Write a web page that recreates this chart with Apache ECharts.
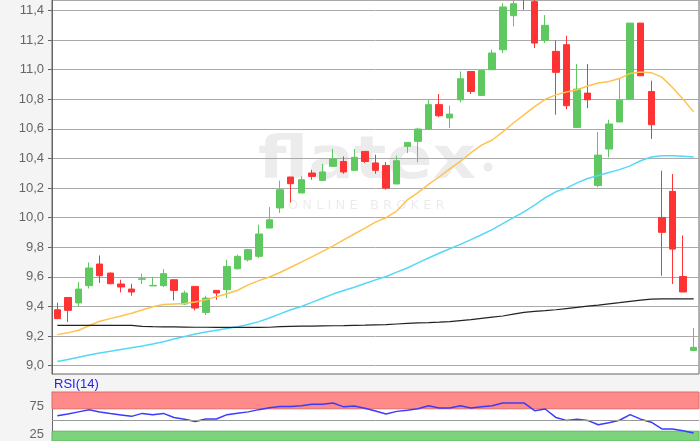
<!DOCTYPE html>
<html><head><meta charset="utf-8">
<script src="https://cdn.jsdelivr.net/npm/echarts@6/dist/echarts.min.js"></script>
<style>html,body{margin:0;padding:0;background:#f4f4f4}#c{width:700px;height:441px}</style>
</head><body><div id="c"></div>
<script>
const categories = ['1','2','3','4','5','6','7','8','9','10','11','12','13','14','15','16','17','18','19','20','21','22','23','24','25','26','27','28','29','30','31','32','33','34','35','36','37','38','39','40','41','42','43','44','45','46','47','48','49','50','51','52','53','54','55','56','57','58','59','60','61'];
const openValues = [9.378,9.461,9.424,9.541,9.687,9.626,9.552,9.518,9.584,9.539,9.541,9.581,9.417,9.536,9.360,9.509,9.514,9.655,9.716,9.739,9.930,10.066,10.275,10.167,10.302,10.252,10.347,10.380,10.320,10.448,10.370,10.353,10.228,10.482,10.516,10.599,10.764,10.674,10.797,10.988,10.826,11.000,11.135,11.365,11.560,11.460,11.198,11.124,11.169,10.610,10.842,10.218,10.464,10.647,10.802,11.315,10.853,10.002,10.178,9.603,9.103];
const closeValues = [9.318,9.374,9.518,9.660,9.608,9.554,9.532,9.498,9.588,9.543,9.622,9.509,9.491,9.390,9.457,9.491,9.671,9.739,9.784,9.890,9.986,10.189,10.230,10.257,10.279,10.309,10.399,10.309,10.408,10.380,10.320,10.200,10.385,10.509,10.599,10.764,10.689,10.700,10.939,10.853,10.995,11.113,11.424,11.446,11.490,11.180,11.300,10.982,10.757,10.869,10.797,10.423,10.633,10.793,11.315,10.959,10.628,9.901,9.788,9.498,9.124];
const lowValues = [9.318,9.295,9.400,9.522,9.559,9.550,9.495,9.473,9.552,9.539,9.532,9.441,9.410,9.374,9.343,9.446,9.457,9.650,9.705,9.728,9.930,10.032,10.103,10.167,10.257,10.252,10.343,10.297,10.320,10.370,10.297,10.189,10.228,10.437,10.374,10.595,10.680,10.606,10.779,10.836,10.826,11.000,11.113,11.293,11.405,11.147,11.180,10.696,10.734,10.610,10.740,10.205,10.408,10.647,10.802,10.959,10.532,9.608,9.552,9.498,9.100];
const highValues = [9.426,9.461,9.566,9.698,9.745,9.630,9.581,9.554,9.622,9.600,9.653,9.581,9.507,9.536,9.473,9.509,9.716,9.750,9.790,9.953,10.072,10.250,10.275,10.279,10.324,10.363,10.466,10.414,10.464,10.448,10.426,10.376,10.419,10.510,10.608,10.797,10.836,10.757,10.988,10.990,10.995,11.135,11.450,11.500,11.600,11.500,11.369,11.198,11.230,11.039,11.039,10.579,10.662,10.937,11.315,11.315,10.926,10.318,10.295,9.880,9.255];
const maShort = [9.210,9.222,9.240,9.270,9.300,9.318,9.336,9.354,9.376,9.398,9.413,9.417,9.420,9.430,9.445,9.466,9.486,9.510,9.546,9.575,9.599,9.630,9.665,9.700,9.735,9.772,9.810,9.850,9.890,9.930,9.970,10.000,10.045,10.120,10.170,10.225,10.275,10.330,10.380,10.440,10.490,10.525,10.580,10.640,10.695,10.750,10.800,10.830,10.850,10.865,10.890,10.910,10.920,10.940,10.975,10.985,10.980,10.950,10.880,10.800,10.715];
const maMid = [9.029,9.042,9.057,9.072,9.086,9.097,9.110,9.122,9.133,9.146,9.162,9.180,9.198,9.214,9.228,9.240,9.252,9.264,9.278,9.298,9.322,9.350,9.378,9.400,9.428,9.456,9.484,9.508,9.530,9.556,9.580,9.603,9.632,9.660,9.695,9.728,9.760,9.790,9.820,9.852,9.885,9.920,9.960,10.000,10.040,10.085,10.135,10.175,10.200,10.235,10.265,10.285,10.305,10.325,10.350,10.385,10.410,10.418,10.418,10.416,10.410];
const maLong = [9.272,9.272,9.272,9.272,9.272,9.272,9.272,9.272,9.266,9.264,9.263,9.262,9.261,9.260,9.260,9.259,9.259,9.259,9.259,9.259,9.260,9.264,9.266,9.267,9.268,9.269,9.270,9.271,9.273,9.274,9.276,9.278,9.282,9.286,9.289,9.291,9.294,9.298,9.305,9.312,9.320,9.328,9.336,9.348,9.360,9.367,9.372,9.378,9.386,9.394,9.403,9.410,9.418,9.426,9.435,9.443,9.450,9.452,9.452,9.452,9.452];
const rsiValues = [57.7,60.7,64.5,68.2,64.4,61.5,59.0,56.5,61.8,59.5,61.8,54.5,51.5,47.5,51.8,51.8,59.5,62.0,64.5,68.5,72.0,74.3,74.3,75.5,78.0,78.0,80.4,73.5,75.0,71.0,66.0,60.7,65.4,67.5,70.2,75.5,71.4,71.4,75.5,71.4,73.5,75.5,80.4,80.4,80.4,66.6,69.6,54.6,49.3,51.5,49.3,41.5,45.0,49.5,59.5,51.5,46.0,34.0,34.0,30.8,26.8];
const rsiLabels = [25, 75];

const candleData = categories.map((c, i) => [openValues[i], closeValues[i], lowValues[i], highValues[i]]);
const UP = '#60c860', DOWN = '#ff3333';
const RSI_MIN = 12.5; // visible lower edge of the RSI panel (panel is cut by the image edge)
const chart = echarts.init(document.getElementById('c'));
const hiddenX = {axisLine:{show:false},axisTick:{show:false},axisLabel:{show:false},splitLine:{show:false},boundaryGap:true};
chart.setOption({
  animation:false,
  backgroundColor:'#f4f4f4',
  textStyle:{fontFamily:'Liberation Sans, Arial, sans-serif'},
  grid:[
    {left:52,right:1,top:0,bottom:67,show:true,backgroundColor:'#fff',borderColor:'#666',borderWidth:1},
    {left:52,right:1,top:392,bottom:0,show:true,backgroundColor:'#fff',borderWidth:0}
  ],
  xAxis:[
    Object.assign({type:'category',data:categories,gridIndex:0}, hiddenX),
    Object.assign({type:'category',data:categories,gridIndex:1}, hiddenX)
  ],
  yAxis:[
    {type:'value',gridIndex:0,min:8.944,max:11.471,splitNumber:12,minInterval:0.2,maxInterval:0.2,
     axisLine:{show:true,lineStyle:{color:'#666'}},
     axisTick:{show:true,length:4,lineStyle:{color:'#666'}},
     axisLabel:{showMinLabel:false,showMaxLabel:false,color:'#666',fontSize:13,margin:8,
       formatter:v=>v.toFixed(1).replace('.',',')},
     splitLine:{show:true,lineStyle:{color:'#aaaaaa',width:1}}},
    {type:'value',gridIndex:1,min:RSI_MIN,max:100,splitNumber:4,minInterval:25,maxInterval:25,
     axisLine:{show:true,lineStyle:{color:'#666'}},
     axisTick:{show:false},
     axisLabel:{showMinLabel:false,showMaxLabel:false,color:'#666',fontSize:13,margin:8,
       formatter:v=>rsiLabels.indexOf(v)>=0?String(v):''},
     splitLine:{show:false}}
  ],
  graphic:[
    {type:'text',x:258,y:134,scaleX:1.17,z:0,silent:true,
     style:{text:'flatex',font:'bold 58px "DejaVu Sans"',fill:'rgba(0,0,0,0.075)',verticalAlign:'top'}},
    {type:'circle',shape:{cx:488,cy:167,r:4.5},z:0,silent:true,style:{fill:'rgba(0,0,0,0.075)'}},
    {type:'text',x:288,y:199,z:0,silent:true,
     style:{text:'O N L I N E   B R O K E R',font:'13px "DejaVu Sans"',fill:'rgba(0,0,0,0.08)',verticalAlign:'top'}},
    {type:'text',x:54,y:378,z:5,silent:true,
     style:{text:'RSI(14)',font:'13px "Liberation Sans"',fill:'#2222ee',verticalAlign:'top'}}
  ],
  series:[
    {type:'candlestick',xAxisIndex:0,yAxisIndex:0,data:candleData,barWidth:7,z:3,
     itemStyle:{color:UP,color0:DOWN,borderColor:UP,borderColor0:DOWN,borderWidth:1}},
    {type:'line',xAxisIndex:0,yAxisIndex:0,data:maShort,symbol:'none',z:4,lineStyle:{color:'#ffc24f',width:1.5}},
    {type:'line',xAxisIndex:0,yAxisIndex:0,data:maMid,symbol:'none',z:4,lineStyle:{color:'#55d8f7',width:1.5}},
    {type:'line',xAxisIndex:0,yAxisIndex:0,data:maLong,symbol:'none',z:4,lineStyle:{color:'#222',width:1.2}},
    {type:'line',xAxisIndex:1,yAxisIndex:1,data:rsiValues,symbol:'none',z:4,lineStyle:{color:'#3b3bff',width:1.5},
     markArea:{silent:true,data:[
       [{yAxis:70,itemStyle:{color:'#ff8a8a',borderColor:'#e06a6a',borderWidth:1}},{yAxis:100}],
       [{yAxis:RSI_MIN,itemStyle:{color:'#7dd37d',borderColor:'#5cb85c',borderWidth:1}},{yAxis:30}]
     ]},
     markLine:{silent:true,symbol:'none',label:{show:false},lineStyle:{color:'#999',type:'solid',width:1},data:[{yAxis:50}]}}
  ]
});
</script></body></html>
